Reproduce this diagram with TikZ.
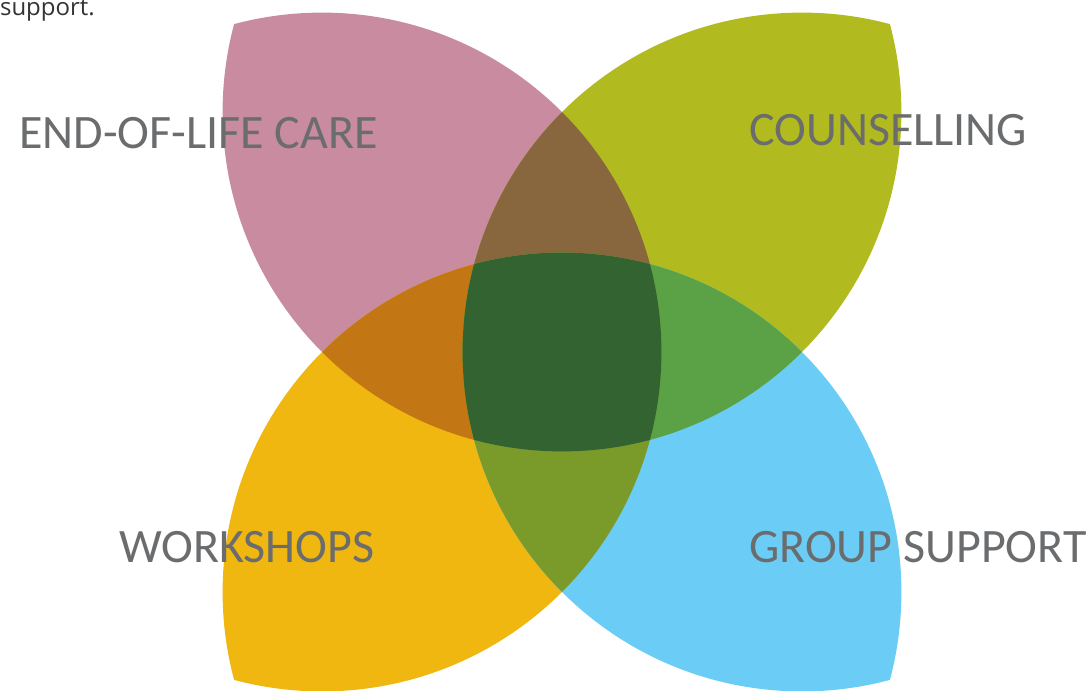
\documentclass[tikz,border=0pt]{standalone}
\usepackage{fontspec}
\setmainfont{Carlito}
\newfontfamily\notefont{Open Sans}
\definecolor{cpink}{HTML}{C98BA0}
\definecolor{colive}{HTML}{B1BA1F}
\definecolor{cyellow}{HTML}{F0B711}
\definecolor{cblue}{HTML}{6BCDF5}
\definecolor{cbrown}{HTML}{88673F}
\definecolor{corange}{HTML}{C37614}
\definecolor{cgreen}{HTML}{5BA246}
\definecolor{cmoss}{HTML}{7A9A2A}
\definecolor{ccenter}{HTML}{336330}
\definecolor{labelgray}{HTML}{6A6C6E}
\definecolor{notegray}{HTML}{333333}
\tikzset{
  label text/.style={font=\fontsize{48}{56}\selectfont, text=labelgray, inner sep=0pt},
  note text/.style={font=\notefont\fontsize{24}{28}\selectfont, text=notegray, inner sep=0pt}
}
\newcommand{\rr}{339.4pt}
\begin{document}
\begin{tikzpicture}[x=1pt,y=-1pt]
\useasboundingbox (0,0) rectangle (1091,690);
\coordinate (T) at (562,112);
\coordinate (L) at (322,352);
\coordinate (R) at (802,352);
\coordinate (B) at (562,592);
% petals
\begin{scope}\clip (T) circle[radius=\rr]; \fill[cpink] (L) circle[radius=\rr];\end{scope}
\begin{scope}\clip (T) circle[radius=\rr]; \fill[colive] (R) circle[radius=\rr];\end{scope}
\begin{scope}\clip (B) circle[radius=\rr]; \fill[cyellow] (L) circle[radius=\rr];\end{scope}
\begin{scope}\clip (B) circle[radius=\rr]; \fill[cblue] (R) circle[radius=\rr];\end{scope}
% pairwise overlaps
\begin{scope}\clip (T) circle[radius=\rr]; \clip (L) circle[radius=\rr]; \fill[cbrown] (R) circle[radius=\rr];\end{scope}
\begin{scope}\clip (L) circle[radius=\rr]; \clip (T) circle[radius=\rr]; \fill[corange] (B) circle[radius=\rr];\end{scope}
\begin{scope}\clip (R) circle[radius=\rr]; \clip (T) circle[radius=\rr]; \fill[cgreen] (B) circle[radius=\rr];\end{scope}
\begin{scope}\clip (B) circle[radius=\rr]; \clip (L) circle[radius=\rr]; \fill[cmoss] (R) circle[radius=\rr];\end{scope}
% centre
\begin{scope}\clip (T) circle[radius=\rr]; \clip (L) circle[radius=\rr]; \clip (R) circle[radius=\rr]; \fill[ccenter] (B) circle[radius=\rr];\end{scope}
% labels
\node[note text, anchor=base east] (note) at (95,16) {support.};
\node[label text, anchor=base west] (eol) at (19,148) {END-OF-LIFE CARE};
\node[label text, anchor=base west] (couns) at (749,145) {COUNSELLING};
\node[label text, anchor=base west] (work) at (119,562) {WORKSHOPS};
\node[label text, anchor=base west] (group) at (749,562) {GROUP SUPPORT};
\end{tikzpicture}
\end{document}
